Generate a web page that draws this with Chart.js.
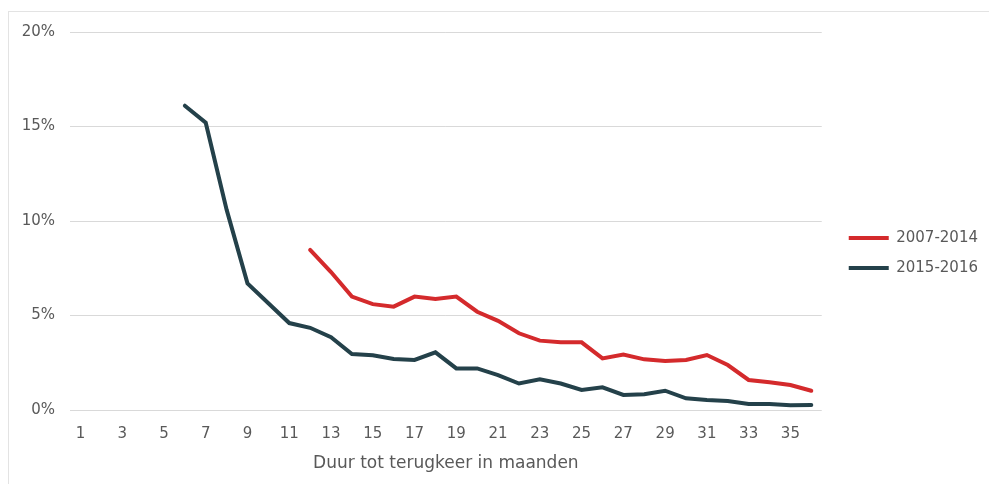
<!DOCTYPE html>
<html>
<head>
<meta charset="utf-8">
<script src="https://cdn.jsdelivr.net/npm/chart.js@4"></script>
<style>
  html, body { margin: 0; padding: 0; background: #fff; }
  #frame {
    position: absolute; left: 8px; top: 11px; right: 0; bottom: 0;
    border-left: 1px solid #e3e3e3; border-top: 1px solid #e3e3e3;
  }
  #wrap { position: absolute; left: 0; top: 0; width: 980px; height: 472px; }
</style>
</head>
<body>
<div id="frame"><div id="wrap"><canvas id="returnChart"></canvas></div></div>
<script>
  // maanden 1..36
  const months = Array.from({ length: 36 }, (_, i) => String(i + 1));

  // aandeel terugkeer (%) per maand, null = geen waarde
  const values2007 = [
    null, null, null, null, null, null, null, null, null, null, null,
    8.47, 7.3, 6.0, 5.6, 5.47, 6.0, 5.87, 6.0, 5.2, 4.72, 4.06, 3.67, 3.58,
    3.58, 2.73, 2.94, 2.68, 2.59, 2.65, 2.91, 2.38, 1.59, 1.47, 1.32, 1.02
  ];
  const values2015 = [
    null, null, null, null, null,
    16.1, 15.2, 10.6, 6.7, 5.65, 4.6, 4.35, 3.85, 2.96, 2.9, 2.7, 2.65, 3.05,
    2.2, 2.2, 1.85, 1.4, 1.62, 1.4, 1.06, 1.2, 0.8, 0.83, 1.02, 0.62, 0.53,
    0.48, 0.32, 0.32, 0.25, 0.26
  ];

  const seriesNames = ['2007-2014', '2015-2016'];
  const seriesColors = ['#d42a2c', '#24414a'];

  const textColor = '#595959';
  const fontFamily = '"DejaVu Sans", sans-serif';

  // extra ruimte tussen grafiek en legenda, legenda zelf iets hoger
  const legendGap = {
    id: 'legendGap',
    beforeLayout(chart) {
      const lg = chart.legend;
      if (!lg || lg._gapPatched) return;
      const fit = lg.fit.bind(lg);
      const draw = lg.draw.bind(lg);
      lg.fit = function () { fit(); this.width += 13; };
      lg.draw = function () {
        this.left += 12; this.top -= 5; this.bottom -= 5;
        draw();
        this.left -= 12; this.top += 5; this.bottom += 5;
      };
      lg._gapPatched = true;
    }
  };

  const data = {
    labels: months,
    datasets: [
      { label: seriesNames[0], data: values2007, borderColor: seriesColors[0], backgroundColor: seriesColors[0] },
      { label: seriesNames[1], data: values2015, borderColor: seriesColors[1], backgroundColor: seriesColors[1] }
    ].map(ds => Object.assign(ds, {
      borderWidth: 4,
      pointRadius: 0,
      borderCapStyle: 'round',
      tension: 0
    }))
  };

  const options = {
    responsive: true,
    maintainAspectRatio: false,
    animation: false,
    layout: { padding: { top: 20, right: 0, bottom: 0, left: 0 } },
    plugins: {
      tooltip: { enabled: false },
      legend: {
        position: 'right',
        labels: {
          color: textColor,
          font: { family: fontFamily, size: 15 },
          usePointStyle: true,
          pointStyle: 'line',
          pointStyleWidth: 40,
          padding: 15
        }
      }
    },
    scales: {
      x: {
        offset: true,
        grid: { display: false },
        border: { display: false },
        ticks: {
          autoSkip: false,
          maxRotation: 0,
          padding: 7,
          color: textColor,
          font: { family: fontFamily, size: 15 },
          callback: (value, index) => index % 2 === 0 ? months[index] : ''
        },
        title: {
          display: true,
          text: 'Duur tot terugkeer in maanden',
          color: textColor,
          font: { family: fontFamily, size: 17 },
          padding: { top: 0, bottom: 10 }
        },
        afterFit: scale => { scale.height = 74; }
      },
      y: {
        min: 0,
        max: 20,
        grid: { color: '#d9d9d9', drawTicks: true, tickLength: 15, tickColor: 'rgba(0,0,0,0)' },
        border: { display: false },
        ticks: {
          stepSize: 5,
          padding: 0,
          color: textColor,
          font: { family: fontFamily, size: 15 },
          callback: value => value + '%'
        },
        afterFit: scale => { scale.width = 61; }
      }
    }
  };

  new Chart(document.getElementById('returnChart'), {
    type: 'line',
    data,
    options,
    plugins: [legendGap]
  });
</script>
</body>
</html>
